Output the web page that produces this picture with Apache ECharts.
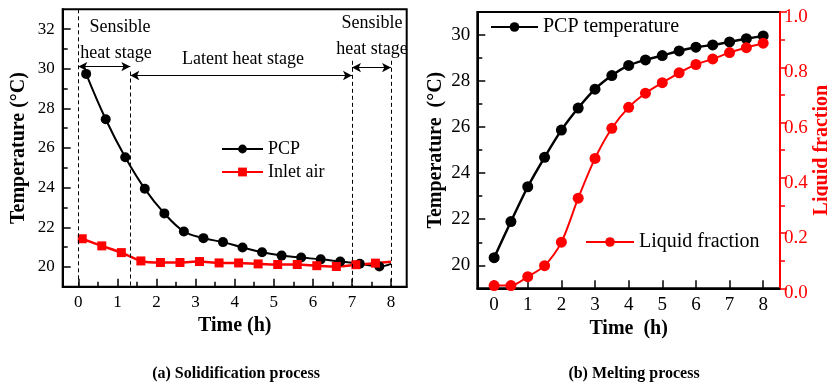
<!DOCTYPE html>
<html>
<head>
<meta charset="utf-8">
<script src="https://cdn.jsdelivr.net/npm/echarts@6/dist/echarts.min.js"></script>
<style>
    html, body { margin: 0; padding: 0; background: #fff; }
    #chart { width: 828px; height: 383px; }
</style>
</head>
<body>
<div id="chart"></div>
<script>
// (a) solidification process
const solidPcpTime = [0.2, 0.7, 1.2, 1.7, 2.2, 2.7, 3.2, 3.7, 4.2, 4.7, 5.2, 5.7, 6.2, 6.7, 7.2, 7.7, 8]
const solidPcpTemp = [29.74, 27.45, 25.53, 23.94, 22.70, 21.79, 21.45, 21.25, 20.98, 20.74, 20.57, 20.47, 20.38, 20.27, 20.16, 20.02, 20.15]
const solidAirTime = [0.1, 0.6, 1.1, 1.6, 2.1, 2.6, 3.1, 3.6, 4.1, 4.6, 5.1, 5.6, 6.1, 6.6, 7.1, 7.6, 8]
const solidAirTemp = [21.42, 21.06, 20.72, 20.30, 20.22, 20.22, 20.27, 20.20, 20.20, 20.15, 20.12, 20.12, 20.06, 20.02, 20.11, 20.19, 20.26]

// stage boundaries (h) and arrow heights (°C)
const stageBounds = [0, 1.33, 7, 8]
const stageArrowY = [30.11, 29.66, 30.06]
const stageLineTop = [33, 29.86, 30.4, 30.4]

// (b) melting process
const meltTime = [0, 0.5, 1, 1.5, 2, 2.5, 3, 3.5, 4, 4.5, 5, 5.5, 6, 6.5, 7, 7.5, 8]
const meltTemp = [20.33, 21.90, 23.41, 24.69, 25.87, 26.83, 27.65, 28.24, 28.68, 28.92, 29.11, 29.31, 29.47, 29.57, 29.70, 29.84, 29.96]
const meltFrac = [0.01, 0.01, 0.042, 0.082, 0.167, 0.326, 0.47, 0.579, 0.655, 0.706, 0.744, 0.78, 0.81, 0.83, 0.853, 0.871, 0.887]

// ticks
const hourTicks = [0, 1, 2, 3, 4, 5, 6, 7, 8]
const hourMinor = [0.5, 1.5, 2.5, 3.5, 4.5, 5.5, 6.5, 7.5]
const solidTempTicks = [20, 22, 24, 26, 28, 30, 32]
const solidTempMinor = [21, 23, 25, 27, 29, 31]
const meltTempTicks = [20, 22, 24, 26, 28, 30]
const meltTempMinor = [21, 23, 25, 27, 29]

const FONT = '"Liberation Serif", "Times New Roman", serif'
const RED = '#ff0000'

const chart = echarts.init(document.getElementById('chart'), null, { renderer: 'canvas' })

const pair = (xs, ys) => xs.map((x, i) => [x, ys[i]])
// last point of the (a) curves is only the line end, no marker
const endNoMarker = (xs, ys) => pair(xs, ys).map((p, i, arr) =>
    i === arr.length - 1 ? { value: p, symbol: 'none' } : p)

const dashLine = (x, top) => [
    { coord: [x, top], symbol: 'none', lineStyle: { type: [4, 3], width: 1, color: '#000' } },
    { coord: [x, 19], symbol: 'none' }
]
const arrowLine = (x0, x1, y) => [
    { coord: [x0, y], symbol: 'arrow', lineStyle: { type: 'solid', width: 1, color: '#000' } },
    { coord: [x1, y], symbol: 'arrow' }
]

const stageMarks = []
stageBounds.forEach((x, i) => stageMarks.push(dashLine(x, stageLineTop[i])))
stageArrowY.forEach((y, i) => stageMarks.push(arrowLine(stageBounds[i], stageBounds[i + 1], y)))

const baseAxis = {
    splitLine: { show: false },
    axisLine: { show: true, onZero: false, lineStyle: { color: '#000', width: 2 } },
}

const majorX = (grid, min, max, size, margin, gap) => ({
    ...baseAxis, type: 'value', gridIndex: grid, min, max, position: 'bottom',
    name: grid === 0 ? 'Time (h)' : 'Time  (h)', nameLocation: 'middle', nameGap: gap,
    nameTextStyle: { fontFamily: FONT, fontWeight: 'bold', fontSize: 20, color: '#000' },
    axisTick: { inside: true, length: 8, customValues: hourTicks, lineStyle: { width: 1.5, color: '#000' } },
    axisLabel: { customValues: hourTicks, fontFamily: FONT, fontSize: size, color: '#000', margin }
})
// extra axis on the same side, only to draw the short minor ticks
const minorAxis = (grid, min, max, values, pos) => ({
    type: 'value', gridIndex: grid, min, max, position: pos, offset: 0,
    splitLine: { show: false }, axisLine: { show: false, onZero: false },
    axisTick: { inside: true, length: 5, customValues: values, lineStyle: { width: 1.5, color: '#000' } },
    axisLabel: { show: false }
})

const option = {
    animation: false,
    grid: [
        { left: 62.7, top: 9.3, width: 344, height: 277.4, outerBoundsMode: 'none', show: true, borderColor: '#000', borderWidth: 2, backgroundColor: 'transparent' },
        { left: 477.3, top: 12, width: 302.7, height: 276.3, outerBoundsMode: 'none', show: true, borderColor: '#000', borderWidth: 2, backgroundColor: 'transparent' }
    ],
    xAxis: [
        majorX(0, -0.4, 8.4, 17, 7, 23),
        minorAxis(0, -0.4, 8.4, hourMinor, 'bottom'),
        majorX(1, -0.5, 8.5, 19, 7, 25)
    ],
    yAxis: [
        {
            ...baseAxis, type: 'value', gridIndex: 0, min: 19, max: 33, position: 'left',
            name: 'Temperature (°C)', nameLocation: 'middle', nameGap: 34, nameRotate: 90,
            nameTextStyle: { fontFamily: FONT, fontWeight: 'bold', fontSize: 20, color: '#000' },
            axisTick: { inside: true, length: 8, customValues: solidTempTicks, lineStyle: { width: 1.5, color: '#000' } },
            axisLabel: { customValues: solidTempTicks, fontFamily: FONT, fontSize: 17, color: '#000', margin: 8 }
        },
        minorAxis(0, 19, 33, solidTempMinor, 'left'),
        {
            ...baseAxis, type: 'value', gridIndex: 1, min: 19, max: 31, position: 'left',
            name: 'Temperature  (°C)', nameLocation: 'middle', nameGap: 31, nameRotate: 90,
            nameTextStyle: { fontFamily: FONT, fontWeight: 'bold', fontSize: 20, color: '#000' },
            axisTick: { inside: true, length: 8, customValues: meltTempTicks, lineStyle: { width: 1.5, color: '#000' } },
            axisLabel: { customValues: meltTempTicks, fontFamily: FONT, fontSize: 19, color: '#000', margin: 7 }
        },
        minorAxis(1, 19, 31, meltTempMinor, 'left'),
        {
            type: 'value', gridIndex: 1, min: 0, max: 1, interval: 0.2, position: 'right',
            splitLine: { show: false },
            axisLine: { show: true, onZero: false, lineStyle: { color: RED, width: 2 } },
            axisTick: { inside: false, length: 7, lineStyle: { color: RED, width: 1.5 } },
            minorTick: { show: true, splitNumber: 2, length: 5, lineStyle: { color: RED, width: 1.5 } },
            axisLabel: {
                fontFamily: FONT, fontSize: 19, color: RED, margin: 4,
                verticalAlign: 'top', lineHeight: 10,
                formatter: v => v.toFixed(1)
            },
            name: 'Liquid fraction', nameLocation: 'middle', nameGap: 31, nameRotate: 90,
            nameTextStyle: { fontFamily: FONT, fontWeight: 'bold', fontSize: 20, color: RED }
        }
    ],
    legend: [
        {
            data: ['PCP', 'Inlet air'], orient: 'vertical', left: 221, top: 140, padding: 0,
            itemWidth: 41, itemHeight: 11, itemGap: 5,
            textStyle: { fontFamily: FONT, fontSize: 18, color: '#000', lineHeight: 18 }
        },
        {
            data: ['PCP temperature'], left: 490, top: 17, padding: 0,
            itemWidth: 47, itemHeight: 12,
            textStyle: { fontFamily: FONT, fontSize: 20, color: '#000', lineHeight: 20 }
        },
        {
            data: ['Liquid fraction'], left: 585, top: 232, padding: 0,
            itemWidth: 48, itemHeight: 12,
            textStyle: { fontFamily: FONT, fontSize: 20, color: '#000', lineHeight: 20 }
        }
    ],
    series: [
        {
            name: 'PCP', type: 'line', xAxisIndex: 0, yAxisIndex: 0,
            data: endNoMarker(solidPcpTime, solidPcpTemp),
            smooth: 0.4, symbol: 'circle', symbolSize: 10,
            lineStyle: { color: '#000', width: 2 }, itemStyle: { color: '#000' },
            markLine: { silent: true, symbolSize: [7, 9], label: { show: false }, data: stageMarks }
        },
        {
            name: 'Inlet air', type: 'line', xAxisIndex: 0, yAxisIndex: 0,
            data: endNoMarker(solidAirTime, solidAirTemp),
            smooth: 0.3, symbol: 'rect', symbolSize: 9,
            lineStyle: { color: RED, width: 2.5 }, itemStyle: { color: RED }
        },
        {
            name: 'PCP temperature', type: 'line', xAxisIndex: 2, yAxisIndex: 2,
            data: pair(meltTime, meltTemp),
            smooth: 0.2, symbol: 'circle', symbolSize: 11,
            lineStyle: { color: '#000', width: 2.5 }, itemStyle: { color: '#000' }
        },
        {
            name: 'Liquid fraction', type: 'line', xAxisIndex: 2, yAxisIndex: 4,
            data: pair(meltTime, meltFrac),
            smooth: 0.3, symbol: 'circle', symbolSize: 11,
            lineStyle: { color: RED, width: 2 }, itemStyle: { color: RED }
        }
    ],
    graphic: [
        { type: 'text', x: 120, y: 27, style: { text: 'Sensible', font: '18px ' + FONT, fill: '#000', align: 'center', verticalAlign: 'middle' } },
        { type: 'text', x: 116, y: 53, style: { text: 'heat stage', font: '18px ' + FONT, fill: '#000', align: 'center', verticalAlign: 'middle' } },
        { type: 'text', x: 243, y: 59, style: { text: 'Latent heat stage', font: '18px ' + FONT, fill: '#000', align: 'center', verticalAlign: 'middle' } },
        { type: 'text', x: 372, y: 23, style: { text: 'Sensible', font: '18px ' + FONT, fill: '#000', align: 'center', verticalAlign: 'middle' } },
        { type: 'text', x: 372, y: 49, style: { text: 'heat stage', font: '18px ' + FONT, fill: '#000', align: 'center', verticalAlign: 'middle' } },
        { type: 'text', x: 236, y: 374, style: { text: '(a) Solidification process', font: 'bold 16px ' + FONT, fill: '#000', align: 'center', verticalAlign: 'middle' } },
        { type: 'text', x: 634, y: 374, style: { text: '(b) Melting process', font: 'bold 16px ' + FONT, fill: '#000', align: 'center', verticalAlign: 'middle' } }
    ]
}

chart.setOption(option)
</script>
</body>
</html>
